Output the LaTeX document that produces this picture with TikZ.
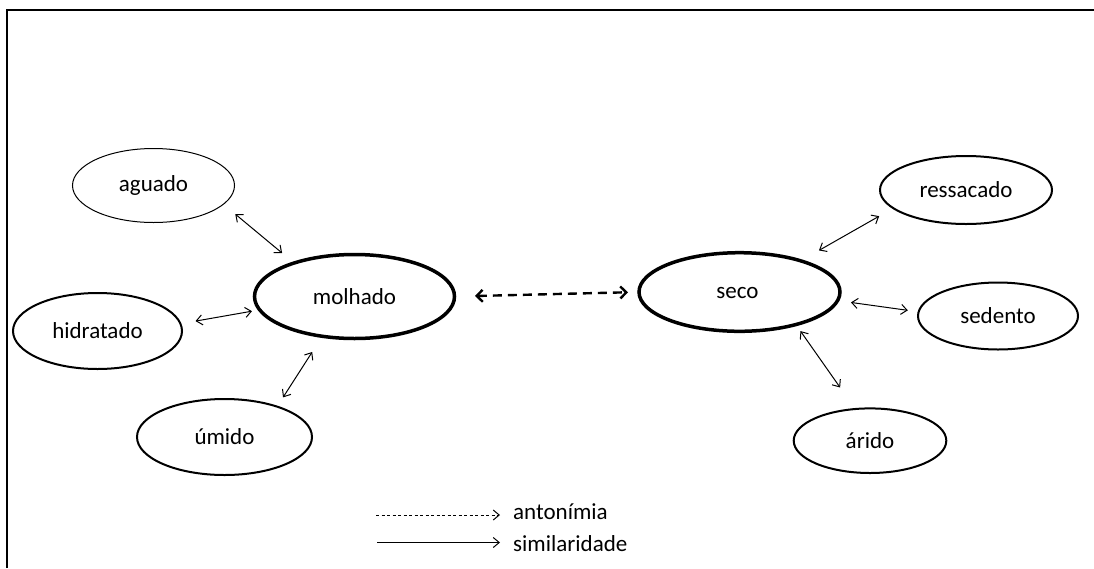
\documentclass[tikz,border=0pt]{standalone}
\usepackage{fontspec}
\setmainfont{Carlito}
\usetikzlibrary{arrows.meta,shapes.geometric}
\begin{document}
\begin{tikzpicture}[x=1pt,y=-1pt,
  every node/.style={font=\fontsize{23}{27}\selectfont},
  word/.style={ellipse,draw,inner sep=0pt,outer sep=0pt,line width=2pt},
  thinword/.style={word,line width=1pt},
  mainword/.style={word,line width=3.5pt},
  simil/.style={line width=1pt,{Straight Barb[length=6pt,width=10pt]}-{Straight Barb[length=6pt,width=10pt]}},
  anton/.style={line width=2.4pt,dash pattern=on 9pt off 6pt,
    {Straight Barb[length=6pt,width=12pt]}-{Straight Barb[length=6pt,width=12pt]}},
  legtip/.style={-{Straight Barb[length=6pt,width=10pt]}},
  legtext/.style={anchor=west,inner sep=0pt}]
\useasboundingbox (0,0) rectangle (1094,568);

% frame
\draw[line width=2pt] (7,568) -- (7,10) -- (1094,10);

% central words
\node[mainword,minimum width=200pt,minimum height=84pt] (molhado) at (354.5,296.5) {molhado};
\node[mainword,minimum width=201pt,minimum height=78.6pt] (seco) at (739.5,292) {};
\node[anchor=base,inner sep=0pt] (secotext) at (737.5,298.3) {seco};

% words around "molhado"
\node[thinword,minimum width=162pt,minimum height=74pt] (aguado) at (153.5,185.5) {aguado};
\node[word,minimum width=169pt,minimum height=76pt] (hidratado) at (97.5,331) {hidratado};
\node[word,minimum width=175pt,minimum height=76pt] (umido) at (224.5,437) {úmido};

% words around "seco"
\node[word,minimum width=172pt,minimum height=68pt] (ressacado) at (966,190) {ressacado};
\node[word,minimum width=160pt,minimum height=67pt] (sedento) at (998,316) {sedento};
\node[word,minimum width=152.6pt,minimum height=64.6pt] (arido) at (870,440.7) {árido};

% similarity links
\draw[simil,shorten <=15.5pt,shorten >=15.6pt] (aguado.-15.6) -- (molhado.151.1);
\draw[simil,shorten <=15.3pt,shorten >=7.8pt] (hidratado.5) -- (molhado.-172);
\draw[simil,shorten <=11pt,shorten >=18.7pt] (umido.30.7) -- (molhado.-129.1);
\draw[simil,shorten <=21pt,shorten >=16.2pt] (seco.27) -- (ressacado.-166.9);
\draw[simil,shorten <=13.5pt,shorten >=10.9pt] (seco.-5) -- (sedento.177.4);
\draw[simil,shorten <=8pt,shorten >=26.3pt] (seco.-30.5) -- (arido.115.7);

% antonymy link
\draw[anton,shorten <=20.5pt,shorten >=11pt] (molhado.east) -- (seco.west);

% legend
\node[legtext] (antlabel) at (513,512) {antonímia};
\node[legtext] (simlabel) at (513,544) {similaridade};
\coordinate (antstart) at (376,515);
\coordinate (simstart) at (377,542.5);
\draw[legtip,line width=1pt,dash pattern=on 3pt off 2.5pt,shorten >=13pt] (antstart) -- (antstart -| antlabel.west);
\draw[legtip,line width=1pt,shorten >=13pt] (simstart) -- (simstart -| simlabel.west);
\end{tikzpicture}
\end{document}
